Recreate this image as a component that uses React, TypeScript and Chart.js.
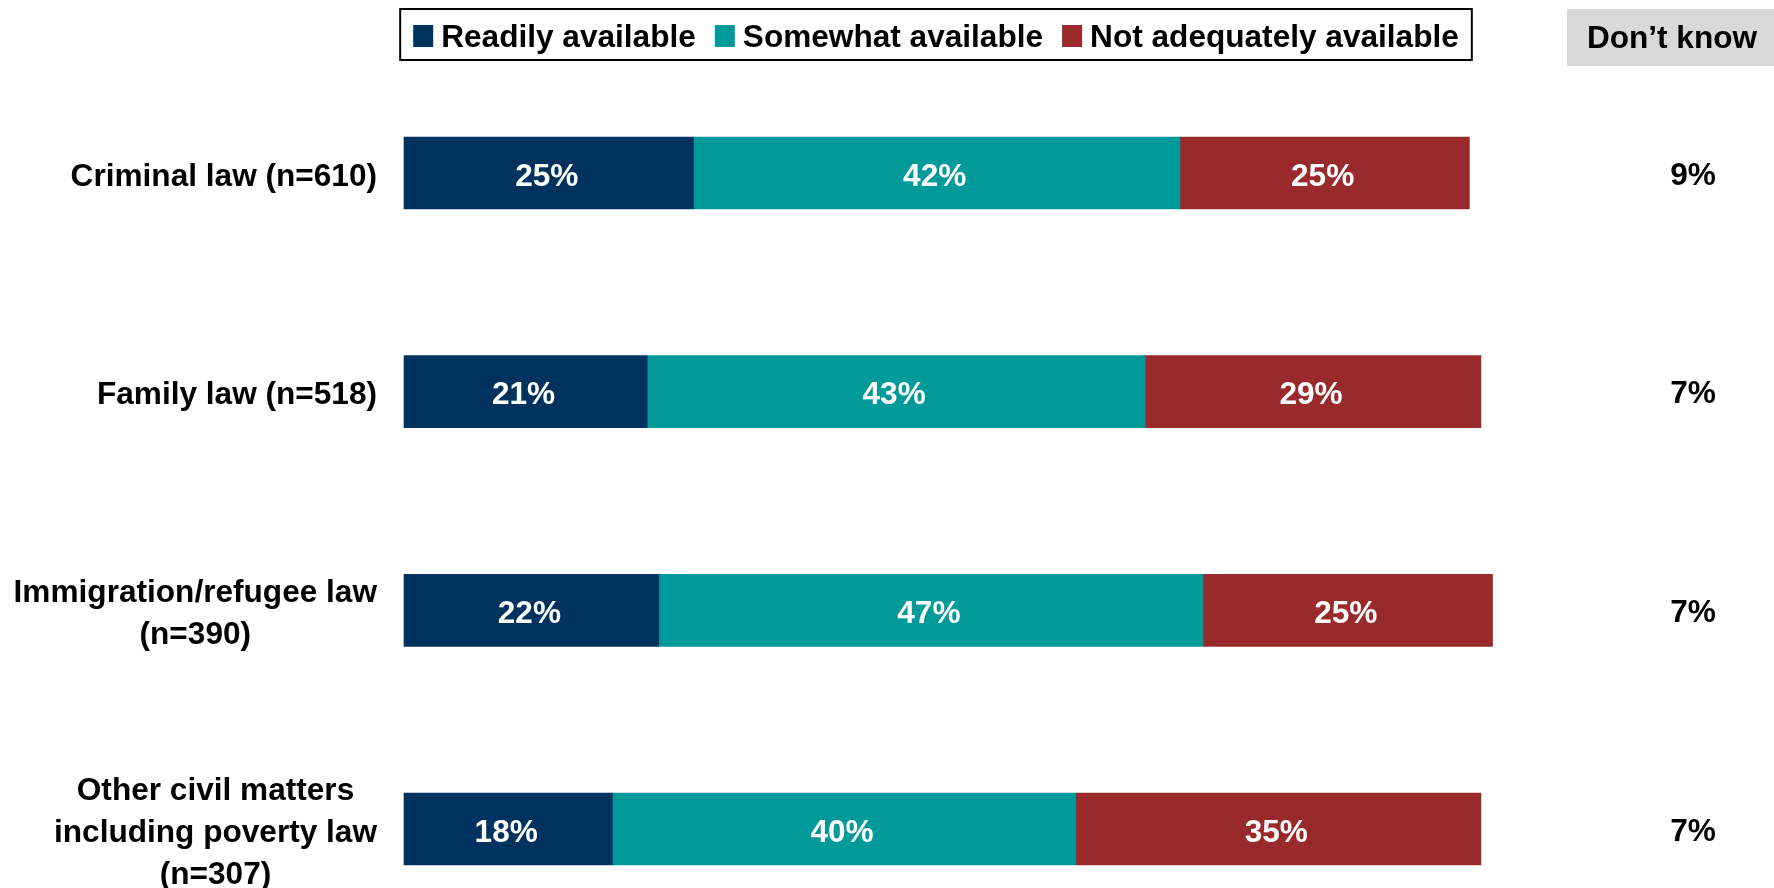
import React, { useEffect, useRef } from "react";
import { Chart, registerables } from "chart.js";

Chart.register(...registerables);

const categories: string[][] = [
  ["Criminal law (n=610)"],
  ["Family law (n=518)"],
  ["Immigration/refugee law", "(n=390)"],
  ["Other civil matters", "including poverty law", "(n=307)"],
];
const readily = [25, 21, 22, 18];
const somewhat = [42, 43, 47, 40];
const notAdequately = [25, 29, 25, 35];
const dontKnow = [9, 7, 7, 7];
const seriesNames = ["Readily available", "Somewhat available", "Not adequately available"];
const seriesColors = ["#00325F", "#009A9A", "#9A292B"];
const dontKnowHeader = "Don\u2019t know";

const FONT = "bold 31.6px 'Liberation Sans', Arial, sans-serif";

const overlayPlugin = {
  id: "overlay",
  afterDraw(chart: any) {
    const ctx: CanvasRenderingContext2D = chart.ctx;
    const area = chart.chartArea;
    const yScale = chart.scales.y;
    ctx.save();
    ctx.font = FONT;
    ctx.textBaseline = "middle";

    // Category labels (right-aligned block, centred lines)
    const lineH = 42;
    categories.forEach((lines, i) => {
      const yPix = yScale.getPixelForValue(i);
      const maxW = Math.max(...lines.map((l) => ctx.measureText(l).width));
      const right = area.left - 27;
      const cx = right - maxW / 2;
      const startY = yPix - ((lines.length - 1) * lineH) / 2;
      ctx.fillStyle = "#000000";
      ctx.textAlign = "center";
      lines.forEach((l, k) => ctx.fillText(l, cx, startY + k * lineH + 4));
    });

    // Segment value labels
    chart.data.datasets.forEach((ds: any, di: number) => {
      const meta = chart.getDatasetMeta(di);
      meta.data.forEach((bar: any, i: number) => {
        const v = ds.data[i];
        const x = (bar.x + bar.base) / 2;
        ctx.fillStyle = "#ffffff";
        ctx.textAlign = "center";
        ctx.fillText(`${v}%`, x - 2, bar.y + 4);
      });
    });

    // Don't know column
    const dkX = 1693;
    ctx.fillStyle = "#D9D9D9";
    ctx.fillRect(1567, 9, chart.width - 1567, 57);
    ctx.fillStyle = "#000000";
    ctx.textAlign = "center";
    ctx.fillText(dontKnowHeader, 1672, 39);
    dontKnow.forEach((v, i) => {
      ctx.fillText(`${v}%`, dkX, yScale.getPixelForValue(i) + 3);
    });

    // Legend
    const sq = 20;
    const sqGap = 8;
    const itemGap = 19;
    const widths = chart.data.datasets.map((ds: any) => ctx.measureText(ds.label).width);
    const total =
      widths.reduce((a: number, w: number) => a + sq + sqGap + w, 0) + itemGap * (widths.length - 1);
    const boxPad = 13;
    const centerX = 936;
    let x = centerX - total / 2;
    const legY = 36;
    ctx.strokeStyle = "#000000";
    ctx.lineWidth = 2;
    ctx.strokeRect(x - boxPad, 9, total + boxPad * 2, 51);
    chart.data.datasets.forEach((ds: any, di: number) => {
      ctx.fillStyle = ds.backgroundColor;
      ctx.fillRect(x, legY - 11, sq, 22);
      x += sq + sqGap;
      ctx.fillStyle = "#000000";
      ctx.textAlign = "left";
      ctx.fillText(ds.label, x, legY + 2);
      x += widths[di] + itemGap;
    });

    ctx.restore();
  },
};

export default function App() {
  const canvasRef = useRef<HTMLCanvasElement | null>(null);

  useEffect(() => {
    if (!canvasRef.current) return;
    const seriesData = [readily, somewhat, notAdequately];
    const chart = new Chart(canvasRef.current, {
      type: "bar",
      data: {
        labels: categories,
        datasets: seriesData.map((d, i) => ({
          label: seriesNames[i],
          data: d,
          backgroundColor: seriesColors[i],
          borderWidth: 0,
          barThickness: 72,
          clip: false as any,
        })),
      },
      options: {
        indexAxis: "y",
        animation: false,
        responsive: false,
        maintainAspectRatio: false,
        layout: { padding: { left: 404, right: 212, top: 173, bottom: 59 } },
        plugins: {
          legend: { display: false },
          tooltip: { enabled: false },
          title: { display: false },
        },
        scales: {
          x: { stacked: true, min: 0, max: 100, display: false },
          y: { stacked: true, display: false, offset: false },
        },
      },
      plugins: [overlayPlugin],
    });
    return () => chart.destroy();
  }, []);

  return (
    <div style={{ position: "fixed", left: 0, top: 0, width: 1774, height: 888, background: "#ffffff" }}>
      <canvas ref={canvasRef} width={1774} height={888} style={{ width: 1774, height: 888 }} />
    </div>
  );
}
